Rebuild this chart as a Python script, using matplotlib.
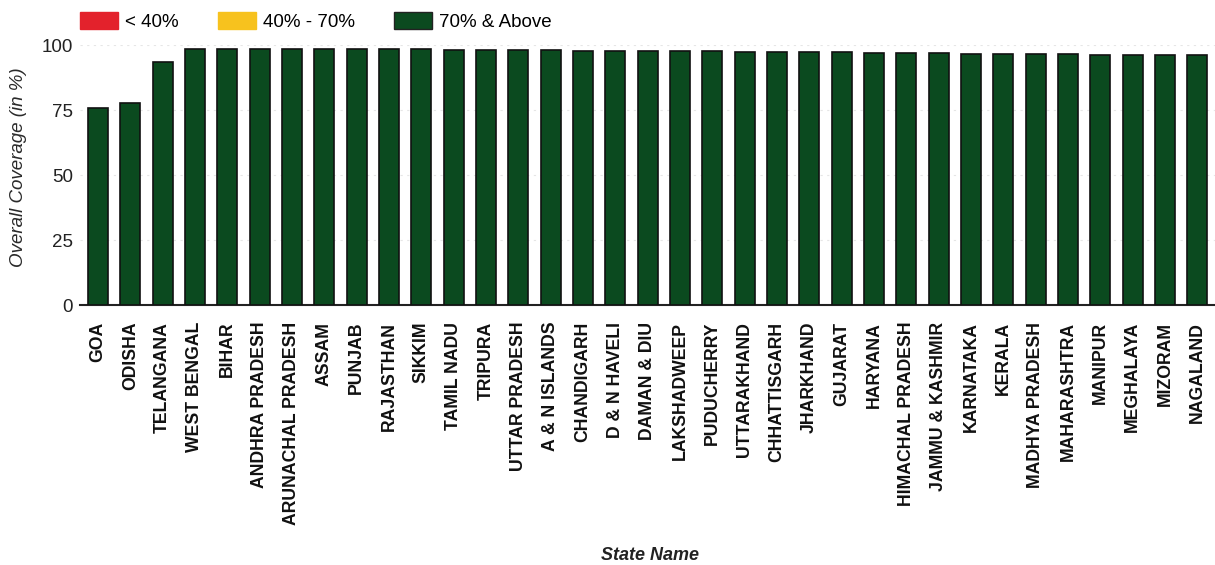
import matplotlib
matplotlib.use("Agg")
import matplotlib.pyplot as plt
from matplotlib.patches import Patch

states = ["GOA", "ODISHA", "TELANGANA", "WEST BENGAL", "BIHAR", "ANDHRA PRADESH",
          "ARUNACHAL PRADESH", "ASSAM", "PUNJAB", "RAJASTHAN", "SIKKIM", "TAMIL NADU",
          "TRIPURA", "UTTAR PRADESH", "A & N ISLANDS", "CHANDIGARH", "D & N HAVELI",
          "DAMAN & DIU", "LAKSHADWEEP", "PUDUCHERRY", "UTTARAKHAND", "CHHATTISGARH",
          "JHARKHAND", "GUJARAT", "HARYANA", "HIMACHAL PRADESH", "JAMMU & KASHMIR",
          "KARNATAKA", "KERALA", "MADHYA PRADESH", "MAHARASHTRA", "MANIPUR",
          "MEGHALAYA", "MIZORAM", "NAGALAND"]
coverage = [75.8, 77.6, 93.6, 98.4, 98.7, 98.7, 98.6, 98.5, 98.5, 98.4, 98.4, 98.3,
            98.2, 98.1, 98.0, 97.9, 97.9, 97.8, 97.7, 97.6, 97.5, 97.4, 97.3, 97.2,
            97.1, 97.0, 96.9, 96.8, 96.7, 96.6, 96.5, 96.4, 96.3, 96.2, 96.1]
yticks = [0, 25, 50, 75, 100]
legend_labels = ["< 40%", "40% - 70%", "70% & Above"]
legend_colors = ["#e3222c", "#f7c21e", "#0b4a1f"]

plt.rcParams['font.family'] = ['Liberation Sans', 'DejaVu Sans']

fig = plt.figure(figsize=(12.15, 5.65), dpi=100)
ax = fig.add_axes([0.066, 0.46, 0.934, 0.46])

x = list(range(len(states)))
ax.bar(x, coverage, width=0.62, color="#0b4a1f", edgecolor="#111111", linewidth=1.2, zorder=3)

ax.set_xlim(-0.55, len(states) - 0.45)
ax.set_ylim(0, 100)
ax.set_yticks(yticks)
ax.set_yticklabels([str(v) for v in yticks], fontsize=13.5, color="#222222")
ax.set_xticks(x)
ax.set_xticklabels(states, rotation=90, fontsize=12.7, color="#111111", fontweight="bold")
ax.tick_params(axis='x', length=0, pad=12)
ax.tick_params(axis='y', length=0, pad=5)

for s in ["top", "right", "left"]:
    ax.spines[s].set_visible(False)
ax.spines["bottom"].set_color("#222222")
ax.spines["bottom"].set_linewidth(1.5)

ax.yaxis.grid(True, color="#e6e6e6", linewidth=0.8, linestyle=(0, (2, 4)), zorder=0)

ax.set_ylabel("Overall Coverage (in %)", fontsize=13.5, style="italic", color="#2a2a2a")
ax.yaxis.set_label_coords(-0.047, 0.53)
ax.set_xlabel("State Name", fontsize=13, style="italic", fontweight="bold", color="#222222")
ax.xaxis.set_label_coords(0.502, -0.93)

handles = [Patch(facecolor=c, edgecolor="#222222" if i == 2 else c, linewidth=1) for i, c in enumerate(legend_colors)]
fig.legend(handles, legend_labels, loc="upper left", bbox_to_anchor=(80 / 1215, 0.978), ncol=3,
           frameon=False, fontsize=13.5, handlelength=2.0, handleheight=1.0,
           columnspacing=2.1, handletextpad=0.4, borderpad=0, borderaxespad=0)

fig.savefig("out.png", dpi=100)
